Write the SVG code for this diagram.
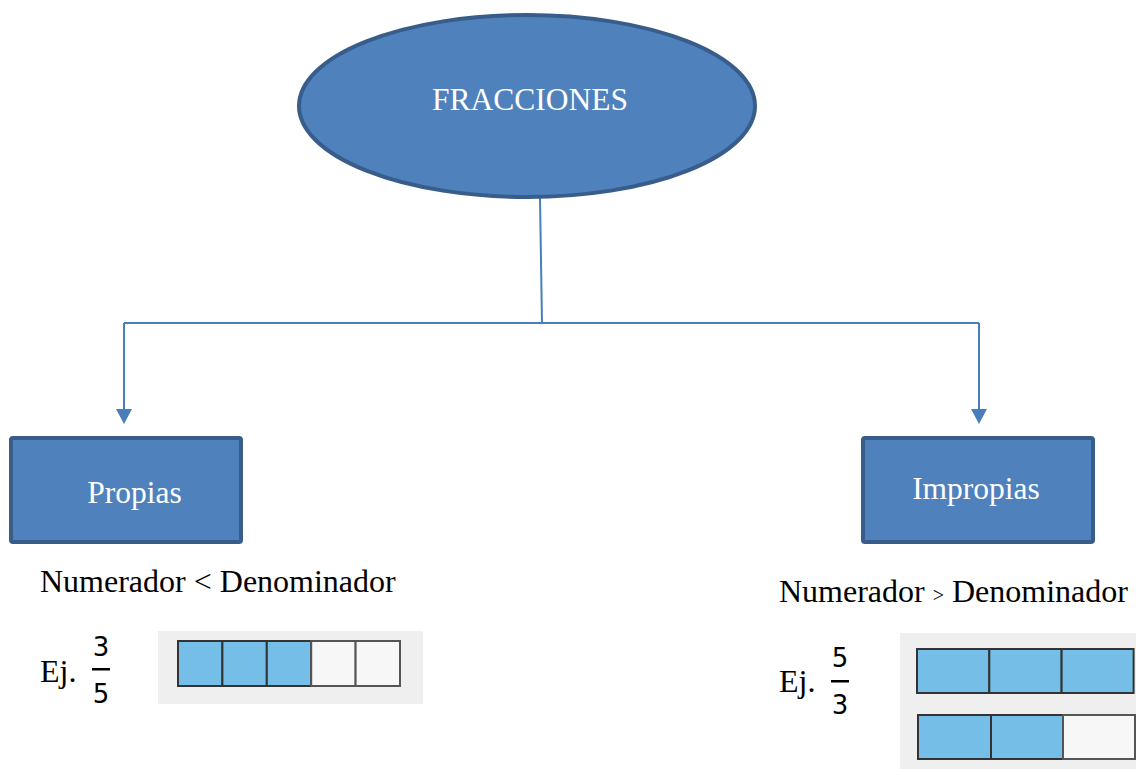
<svg xmlns="http://www.w3.org/2000/svg" width="1136" height="769" viewBox="0 0 1136 769">
<style>
.node{fill:#4f81bd;stroke:#385d8a;stroke-width:4}
.lbl{font-family:"Liberation Serif","Times New Roman",serif;fill:#ffffff;font-size:31.5px}
.txt{font-family:"Liberation Serif","Times New Roman",serif;fill:#000000;font-size:32px}
.num{font-family:"DejaVu Sans","Noto Sans",sans-serif;fill:#000000;font-size:26px;text-anchor:middle}
.conn{stroke:#4a7ebb;stroke-width:2;fill:none}
.bg{fill:#efefef}
.on{fill:#75bee8;stroke:#333333;stroke-width:2}
.off{fill:#f7f7f7;stroke:#555555;stroke-width:2}
</style>
<rect width="1136" height="769" fill="#ffffff"/>
<g id="connectors">
<path class="conn" d="M540,198 L542,323"/>
<path class="conn" d="M124,323 L979,323"/>
<path d="M124,323 L124,409" class="conn"/>
<path d="M116,409 L132,409 L124,424 Z" fill="#4a7ebb"/>
<path d="M979,323 L979,409" class="conn"/>
<path d="M971,409 L987,409 L979,424 Z" fill="#4a7ebb"/>
</g>
<g id="fracciones">
<ellipse class="node" cx="527" cy="106" rx="228" ry="91"/>
<text class="lbl" x="530" y="110" text-anchor="middle">FRACCIONES</text>
</g>
<g id="propias">
<rect class="node" x="11" y="438" width="230" height="104" rx="2"/>
<text class="lbl" x="134.5" y="503" text-anchor="middle">Propias</text>
</g>
<g id="impropias">
<rect class="node" x="863" y="438" width="230" height="104" rx="2"/>
<text class="lbl" x="976" y="499" text-anchor="middle">Impropias</text>
</g>
<g id="propias-desc">
<text class="txt" x="40" y="592">Numerador &lt; Denominador</text>
<text class="txt" x="40" y="682">Ej.</text>
<text class="num" x="101" y="656">3</text>
<rect x="92" y="668" width="18" height="2.5" fill="#000"/>
<text class="num" x="101" y="703">5</text>
<rect class="bg" x="158" y="631" width="265" height="73"/>
<rect class="on" x="178" y="641" width="44.4" height="45"/>
<rect class="on" x="222.4" y="641" width="44.4" height="45"/>
<rect class="on" x="266.8" y="641" width="44.4" height="45"/>
<rect class="off" x="311.2" y="641" width="44.4" height="45"/>
<rect class="off" x="355.6" y="641" width="44.4" height="45"/>
</g>
<g id="impropias-desc">
<text class="txt" x="779" y="602">Numerador <tspan font-size="20">&gt;</tspan> Denominador</text>
<text class="txt" x="779" y="692">Ej.</text>
<text class="num" x="840" y="667">5</text>
<rect x="831" y="680" width="18" height="2.5" fill="#000"/>
<text class="num" x="840" y="714">3</text>
<rect class="bg" x="900" y="633" width="236" height="136"/>
<rect class="on" x="917" y="649" width="72.3" height="44"/>
<rect class="on" x="989.3" y="649" width="72.3" height="44"/>
<rect class="on" x="1061.6" y="649" width="72" height="44"/>
<rect class="on" x="918" y="715" width="73" height="44"/>
<rect class="on" x="991" y="715" width="72" height="44"/>
<rect class="off" x="1063" y="715" width="72" height="44"/>
</g>
</svg>
